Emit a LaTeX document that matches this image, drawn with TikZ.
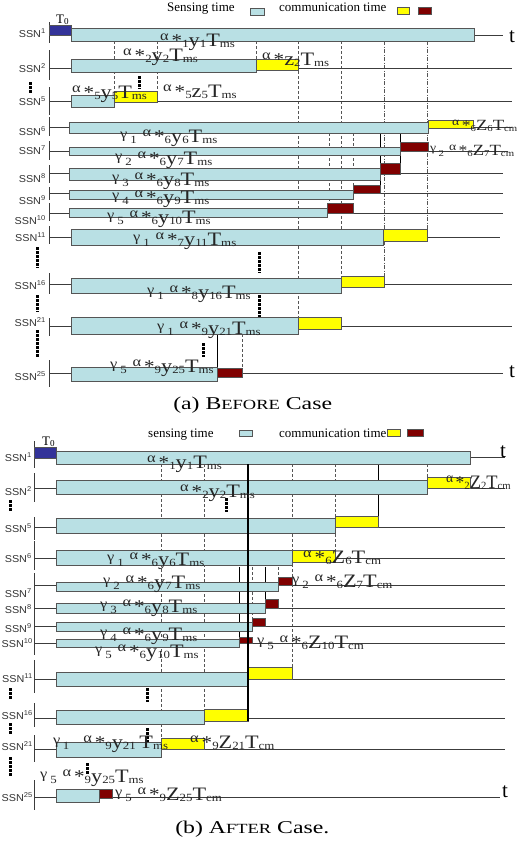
\documentclass[tikz,border=0pt]{standalone}
\usepackage{fontspec}
\setmainfont{Liberation Serif}
\newfontfamily\arialf{Liberation Sans}
\definecolor{sensec}{RGB}{185,224,228}
\definecolor{yelc}{RGB}{255,255,0}
\definecolor{redc}{RGB}{128,0,0}
\definecolor{navyc}{RGB}{51,51,153}
\definecolor{boxl}{RGB}{85,85,85}
\definecolor{rowc}{RGB}{60,60,60}
\newcommand{\Al}{\raisebox{6pt}{\fontsize{14}{14}\selectfont α}}
\newcommand{\Ga}{\raisebox{4pt}{\fontsize{14}{14}\selectfont γ}}
\newcommand{\Ast}{\hspace{2.5pt}{\fontsize{18}{18}\selectfont *}}
\newcommand{\Lo}[1]{\raisebox{-1.5pt}{\fontsize{11}{11}\selectfont #1}}
\newcommand{\Gs}[1]{\Ga\hspace{2.5pt}\Lo{#1}\hspace{5pt}}
\begin{document}
\begin{tikzpicture}[x=1pt,y=-1pt,
  sense/.style={draw=boxl,fill=sensec,line width=0.8pt},
  commy/.style={draw=boxl,fill=yelc,line width=0.8pt},
  commr/.style={draw=boxl,fill=redc,line width=0.8pt},
  tzero/.style={draw=boxl,fill=navyc,line width=0.8pt},
  rowl/.style={draw=rowc,line width=0.8pt},
  axl/.style={draw=rowc,line width=0.9pt},
  dsh/.style={draw=boxl,line width=0.5pt,dash pattern=on 3pt off 2pt},
  dshd/.style={draw=boxl,line width=0.5pt,dash pattern=on 4pt off 1.5pt on 1pt off 1.5pt},
  solv/.style={draw=black,line width=1pt},
  dotcol/.style={draw=black,line width=3pt,dash pattern=on 2.5pt off 1.5pt},
  lab/.style={inner sep=0pt,anchor=base west,text=black!85,font=\fontsize{19}{19}\selectfont,xscale=1.17,transform shape},
  labs/.style={inner sep=0pt,anchor=base west,text=black!85,font=\fontsize{19}{19}\selectfont,xscale=0.98,yscale=0.82,transform shape},
  labn/.style={inner sep=0pt,anchor=base west,text=black!85,font=\fontsize{19}{19}\selectfont,xscale=0.97,transform shape},
  ssn/.style={inner sep=0pt,anchor=east,text=black!80,font=\arialf\fontsize{10}{11}\selectfont,xscale=1.08,transform shape},
  leg/.style={inner sep=0pt,anchor=base west,font=\fontsize{13}{13}\selectfont},
  tt/.style={inner sep=0pt,anchor=base west,font=\fontsize{21}{21}\selectfont},
  captxt/.style={inner sep=0pt,anchor=base west,font=\fontsize{18}{18}\selectfont,xscale=1.32,transform shape}
]
\useasboundingbox (0,0) rectangle (521,841);
% ================= (a) =================
\node[leg] (lsa) at (167,11) {Sensing time};
\draw[sense] (250,8) rectangle (264,15);
\node[leg] (lca) at (279,11) {communication time};
\draw[commy] (397,7) rectangle (409,14);
\draw[commr] (418,7) rectangle (431,14);
% verticals
\draw[dsh] (114,41) -- (114,95);
\draw[dsh] (157,41) -- (157,91);
\draw[dsh] (256,41) -- (256,59);
\draw[dsh] (298,41) -- (298,317);
\draw[dsh] (341,41) -- (341,276);
\draw[dshd] (384,41) -- (384,276);
\draw[dshd] (427,41) -- (427,229);
\draw[dsh] (329,133) -- (329,203);
\draw[dsh] (353,133) -- (353,185);
\draw[solv] (380,133) -- (380,185);
\draw[solv] (400,133) -- (400,174);
\draw[solv] (217,334) -- (217,368);
\draw[dsh] (242,334) -- (242,368);
% axis segments
\foreach \a/\b in {22/43,50/80,87/115,117/136,141/160,165/183,187/200,203/221,226/244,273/294,318/336,360/387}
  \draw[axl] (49,\a) -- (49,\b);
% row lines
\foreach \yy/\xe in {35/503,68/512,101/512,127/512,151/508,173/503,193/503,213/503,237/500,284/512,326/512,373/503}
  \draw[rowl] (49,\yy) -- (\xe,\yy);
% boxes
\draw[tzero] (49,25) rectangle (71,35);
\draw[sense] (71,28) rectangle (474,41);
\draw[sense] (71,59) rectangle (256,72);
\draw[commy] (256,59) rectangle (298,70);
\draw[sense] (71,95) rectangle (114,107);
\draw[commy] (114,91) rectangle (157,102);
\draw[sense] (69,122) rectangle (428,133);
\draw[commy] (428,120) rectangle (473,128);
\draw[sense] (69,147) rectangle (400,155);
\draw[commr] (400,142) rectangle (428,151);
\draw[sense] (69,168) rectangle (380,180);
\draw[commr] (380,163) rectangle (400,174);
\draw[sense] (69,190) rectangle (353,199);
\draw[commr] (353,185) rectangle (380,193);
\draw[sense] (69,208) rectangle (327,217);
\draw[commr] (327,203) rectangle (353,213);
\draw[sense] (71,229) rectangle (383,245);
\draw[commy] (383,229) rectangle (427,241);
\draw[sense] (71,278) rectangle (341,293);
\draw[commy] (341,276) rectangle (384,287);
\draw[sense] (71,317) rectangle (298,334);
\draw[commy] (298,317) rectangle (341,329);
\draw[sense] (71,367) rectangle (217,381);
\draw[commr] (217,368) rectangle (242,377);
% dots
\foreach \xx/\a/\b in {30/82/93,139/76/89,37/247/268,259/252/273,37/295/312,259/295/317,37/330/357,203/343/357}
  \draw[dotcol] (\xx,\a) -- (\xx,\b);
% SSN labels
\node[ssn] (sa1) at (46,33) {SSN\textsuperscript{1}};
\node[ssn] (sa2) at (46,68) {SSN\textsuperscript{2}};
\node[ssn] (sa5) at (46,101) {SSN\textsuperscript{5}};
\node[ssn] (sa6) at (46,131) {SSN\textsuperscript{6}};
\node[ssn] (sa7) at (46,150) {SSN\textsuperscript{7}};
\node[ssn] (sa8) at (46,178) {SSN\textsuperscript{8}};
\node[ssn] (sa9) at (46,200) {SSN\textsuperscript{9}};
\node[ssn] (sa10) at (46,220) {SSN\textsuperscript{10}};
\node[ssn] (sa11) at (46,237) {SSN\textsuperscript{11}};
\node[ssn] (sa16) at (46,285) {SSN\textsuperscript{16}};
\node[ssn] (sa21) at (46,322) {SSN\textsuperscript{21}};
\node[ssn] (sa25) at (46,376) {SSN\textsuperscript{25}};
\node[leg] (t0a) at (56,23) {T\textsubscript{0}};
\node[tt] (ta1) at (509,42) {t};
\node[tt] (ta2) at (509,377) {t};
% labels
\node[lab] (la1) at (160,46) {\Al\Ast\Lo{1}y\Lo{1}T\Lo{ms}};
\node[lab] (la2) at (123,61) {\Al\Ast\Lo{2}y\Lo{2}T\Lo{ms}};
\node[lab] (la3) at (262,65) {\Al\Ast z\Lo{2}T\Lo{ms}};
\node[lab] (la4) at (72,98) {\Al\Ast\Lo{5}y\Lo{5}T\Lo{ms}};
\node[lab] (la5) at (163,97) {\Al\Ast\Lo{5}z\Lo{5}T\Lo{ms}};
\node[labs] (la6) at (452,130) {\Al\Ast\Lo{6}Z\Lo{6}T\Lo{cm}};
\node[lab] (la7) at (120,142) {\Gs{1}\Al\Ast\Lo{6}y\Lo{6}T\Lo{ms}};
\node[labs] (la8) at (430,155) {\Gs{2}\Al\Ast\Lo{6}Z\Lo{7}T\Lo{cm}};
\node[lab] (la9) at (115,164) {\Gs{2}\Al\Ast\Lo{6}y\Lo{7}T\Lo{ms}};
\node[lab] (la10) at (112,185) {\Gs{3}\Al\Ast\Lo{6}y\Lo{8}T\Lo{ms}};
\node[lab] (la11) at (112,203) {\Gs{4}\Al\Ast\Lo{6}y\Lo{9}T\Lo{ms}};
\node[lab] (la12) at (107,223) {\Gs{5}\Al\Ast\Lo{6}y\Lo{10}T\Lo{ms}};
\node[lab] (la13) at (133,245) {\Gs{1}\Al\Ast\Lo{7}y\Lo{11}T\Lo{ms}};
\node[lab] (la14) at (147,298) {\Gs{1}\Al\Ast\Lo{8}y\Lo{16}T\Lo{ms}};
\node[lab] (la15) at (157,334) {\Gs{1}\Al\Ast\Lo{9}y\Lo{21}T\Lo{ms}};
\node[lab] (la16) at (110,372) {\Gs{5}\Al\Ast\Lo{9}y\Lo{25}T\Lo{ms}};
\node[captxt] (capa) at (173,409) {(a) B{\fontsize{14}{14}\selectfont EFORE} Case};
% ================= (b) =================
\node[leg] (lsb) at (148,437) {sensing time};
\draw[sense] (239,430) rectangle (252,436);
\node[leg] (lcb) at (279,437) {communication time};
\draw[commy] (387,429) rectangle (400,436);
\draw[commr] (407,429) rectangle (423,436);
% verticals
\draw[dsh] (161,464) -- (161,738);
\draw[dsh] (204,464) -- (204,709);
\draw[dsh] (292,464) -- (292,667);
\draw[dsh] (335,464) -- (335,550);
\draw[dsh] (427,464) -- (427,477);
\draw[solv] (378,464) -- (378,516);
\draw[solv] (239,567) -- (239,637);
\draw[dsh] (252,567) -- (252,618);
\draw[solv] (265,567) -- (265,599);
\draw[dsh] (278,567) -- (278,577);
% axis
\foreach \a/\b in {441/468,473/502,517/540,541/570,573/655,660/693,703/727,735/762,780/810}
  \draw[axl] (34,\a) -- (34,\b);
% rows
\foreach \yy/\xe in {457/505,488/505,527/505,558/505,585/505,608/505,626/505,643/505,679/505,718/505,749/505,797/500}
  \draw[rowl] (34,\yy) -- (\xe,\yy);
% boxes
\draw[tzero] (34,447) rectangle (56,458);
\draw[sense] (56,451) rectangle (470,464);
\draw[sense] (56,480) rectangle (427,494);
\draw[commy] (427,477) rectangle (470,488);
\draw[sense] (56,518) rectangle (335,533);
\draw[commy] (335,516) rectangle (378,527);
\draw[sense] (56,550) rectangle (292,565);
\draw[commy] (292,550) rectangle (335,562);
\draw[sense] (56,582) rectangle (278,591);
\draw[commr] (278,577) rectangle (292,585);
\draw[sense] (56,603) rectangle (265,613);
\draw[commr] (265,599) rectangle (278,608);
\draw[sense] (56,622) rectangle (252,631);
\draw[commr] (252,618) rectangle (265,626);
\draw[sense] (56,639) rectangle (239,647);
\draw[commr] (239,637) rectangle (252,643);
\draw[sense] (56,672) rectangle (248,686);
\draw[commy] (248,667) rectangle (292,679);
\draw[sense] (56,710) rectangle (204,724);
\draw[commy] (204,709) rectangle (248,721);
\draw[sense] (56,742) rectangle (161,757);
\draw[commy] (161,738) rectangle (204,749);
\draw[sense] (56,789) rectangle (99,802);
\draw[commr] (99,789) rectangle (112,798);
\draw[solv,line width=1.6pt] (248,464) -- (248,721);
% dots
\foreach \xx/\a/\b in {10/500/512,226/498/512,10/688/700,147/688/702,10/723/735,147/728/742,10/757/777,87/763/775}
  \draw[dotcol] (\xx,\a) -- (\xx,\b);
% SSN labels
\node[ssn] (sb1) at (32,457) {SSN\textsuperscript{1}};
\node[ssn] (sb2) at (32,491) {SSN\textsuperscript{2}};
\node[ssn] (sb5) at (32,528) {SSN\textsuperscript{5}};
\node[ssn] (sb6) at (32,558) {SSN\textsuperscript{6}};
\node[ssn] (sb7) at (32,593) {SSN\textsuperscript{7}};
\node[ssn] (sb8) at (32,609) {SSN\textsuperscript{8}};
\node[ssn] (sb9) at (32,628) {SSN\textsuperscript{9}};
\node[ssn] (sb10) at (33,643) {SSN\textsuperscript{10}};
\node[ssn] (sb11) at (33,678) {SSN\textsuperscript{11}};
\node[ssn] (sb16) at (33,715) {SSN\textsuperscript{16}};
\node[ssn] (sb21) at (33,746) {SSN\textsuperscript{21}};
\node[ssn] (sb25) at (33,797) {SSN\textsuperscript{25}};
\node[leg] (t0b) at (42,445) {T\textsubscript{0}};
\node[tt] (tb1) at (500,457) {t};
\node[tt] (tb2) at (502,797) {t};
% labels
\node[lab] (lb1) at (147,468) {\Al\Ast\Lo{1}y\Lo{1}T\Lo{ms}};
\node[labn] (lb2) at (446,488) {\Al\Ast\Lo{2}Z\Lo{2}T\Lo{cm}};
\node[lab] (lb3) at (180,497) {\Al\Ast\Lo{2}y\Lo{2}T\Lo{ms}};
\node[lab] (lb4) at (303,563) {\Al\Ast\Lo{6}Z\Lo{6}T\Lo{cm}};
\node[lab] (lb5) at (107,565) {\Gs{1}\Al\Ast\Lo{6}y\Lo{6}T\Lo{ms}};
\node[lab] (lb6) at (292,587) {\Gs{2}\Al\Ast\Lo{6}Z\Lo{7}T\Lo{cm}};
\node[lab] (lb7) at (103,588) {\Gs{2}\Al\Ast\Lo{6}y\Lo{7}T\Lo{ms}};
\node[lab] (lb8) at (100,612) {\Gs{3}\Al\Ast\Lo{6}y\Lo{8}T\Lo{ms}};
\node[lab] (lb9) at (100,640) {\Gs{4}\Al\Ast\Lo{6}y\Lo{9}T\Lo{ms}};
\node[lab] (lb10) at (257,648) {\Gs{5}\Al\Ast\Lo{6}Z\Lo{10}T\Lo{cm}};
\node[lab] (lb11) at (95,657) {\Gs{5}\Al\Ast\Lo{6}y\Lo{10}T\Lo{ms}};
\node[lab] (lb12) at (53,748) {\Ga\hspace{2pt}\Lo{1}\hspace{12pt}\Al\Ast\Lo{9}y\Lo{21}\,T\Lo{ms}};
\node[lab] (lb13) at (190,748) {\Al\Ast\Lo{9}Z\Lo{21}T\Lo{cm}};
\node[lab] (lb14) at (40,782) {\Gs{5}\Al\Ast\Lo{9}y\Lo{25}T\Lo{ms}};
\node[lab] (lb15) at (115,800) {\Gs{5}\Al\Ast\Lo{9}Z\Lo{25}T\Lo{cm}};
\node[captxt] (capb) at (175,833) {(b) A{\fontsize{14}{14}\selectfont FTER} Case.};
\end{tikzpicture}
\end{document}
